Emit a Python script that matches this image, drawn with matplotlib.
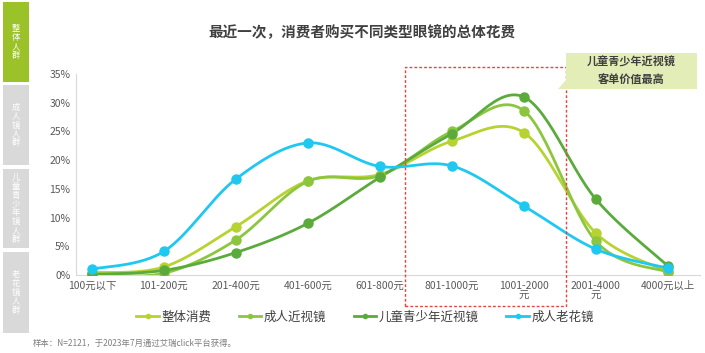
import numpy as np
import matplotlib.pyplot as plt
from matplotlib.patches import Rectangle, Polygon

plt.rcParams['font.family'] = ['Noto Sans CJK SC', 'DejaVu Sans']

# 数据
categories = ["100元以下", "101-200元", "201-400元", "401-600元", "601-800元",
              "801-1000元", "1001-2000\n元", "2001-4000\n元", "4000元以上"]
overall = [0.4, 1.4, 8.4, 16.4, 17.5, 23.3, 24.8, 7.3, 0.6]
adult_myopia = [0.2, 0.3, 6.1, 16.3, 17.3, 25.0, 28.6, 5.9, 0.5]
youth_myopia = [0.1, 0.8, 3.9, 9.0, 17.0, 24.6, 31.0, 13.2, 1.6]
presbyopia = [1.0, 4.1, 16.7, 23.0, 18.9, 19.0, 12.0, 4.5, 1.2]

series_names = ["整体消费", "成人近视镜", "儿童青少年近视镜", "成人老花镜"]
series_colors = ["#b6d332", "#8cc63f", "#5aab3c", "#1ec8f0"]
tabs = ["整体人群", "成人镜人群", "儿童青少年镜人群", "老花镜人群"]


def smooth(y, n=30):
    # Excel 风格的平滑曲线（贝塞尔，控制点取相邻点差的 1/6）
    pts = np.column_stack([np.arange(len(y)), y]).astype(float)
    out = []
    for i in range(len(pts) - 1):
        p0 = pts[max(i - 1, 0)]
        p1 = pts[i]
        p2 = pts[i + 1]
        p3 = pts[min(i + 2, len(pts) - 1)]
        c1 = p1 + (p2 - p0) / 6
        c2 = p2 - (p3 - p1) / 6
        t = np.linspace(0, 1, n)[:, None]
        seg = (1 - t) ** 3 * p1 + 3 * (1 - t) ** 2 * t * c1 + 3 * (1 - t) * t ** 2 * c2 + t ** 3 * p2
        out.append(seg if i == 0 else seg[1:])
    seg = np.vstack(out)
    return seg[:, 0], seg[:, 1]


fig = plt.figure(figsize=(7.05, 3.53), dpi=100)
W, H = 705, 353

ax = fig.add_axes([76 / W, 1 - 275 / H, (700 - 76) / W, (275 - 74) / H])
x = np.arange(len(categories))
for vals, name, color in zip([overall, adult_myopia, youth_myopia, presbyopia], series_names, series_colors):
    sx, sy = smooth(vals)
    ax.plot(sx, sy, color=color, lw=2, zorder=3)
    ax.plot(x, vals, 'o', color=color, ms=6.5, zorder=4)
    ax.plot([], [], '-o', color=color, lw=2, ms=3, label=name)

ax.set_ylim(0, 35)
ax.set_xlim((55 - 91) / 72.1 + 0.28, (700 - 91) / 72.1)
ax.set_yticks(range(0, 36, 5))
ax.set_yticklabels([f"{v}%" for v in range(0, 36, 5)])
ax.set_xticks(x)
ax.set_xticklabels(categories, linespacing=1.0)
ax.tick_params(length=0, labelsize=7.5, labelcolor="#595959", pad=4)
for s in ["top", "right"]:
    ax.spines[s].set_visible(False)
for s in ["left", "bottom"]:
    ax.spines[s].set_color("#d9d9d9")

ax.legend(loc="center", bbox_to_anchor=(365 / W, 1 - 317 / H), bbox_transform=fig.transFigure,
          ncol=4, frameon=False, fontsize=9, handlelength=1.8, columnspacing=2.2,
          handletextpad=0.2, labelcolor="#404040")

# 标题
fig.text(362 / W, 1 - 32 / H, "最近一次，消费者购买不同类型眼镜的总体花费", ha="center", va="center",
         fontsize=10.5, fontweight="bold", color="#404040")

# 红色虚线框
fig.patches.append(Rectangle((405 / W, 1 - 306 / H), (566 - 405) / W, (306 - 67) / H,
                             transform=fig.transFigure, fill=False, ec="#e8433c", lw=1, ls=(0, (2, 1.5))))

# 注释框
fig.patches.append(Rectangle((566 / W, 1 - 89 / H), (697 - 566) / W, (89 - 53) / H,
                             transform=fig.transFigure, fc="#e3edb8", ec="none"))
fig.patches.append(Polygon([(566 / W, 1 - 80 / H), (566 / W, 1 - 89 / H), (558 / W, 1 - 89 / H)],
                           transform=fig.transFigure, fc="#e3edb8", ec="none"))
fig.text(631 / W, 1 - 71 / H, "儿童青少年近视镜\n客单价值最高", ha="center", va="center",
         fontsize=8, fontweight="bold", color="#404040", linespacing=1.5)

# 左侧标签（竖排，逐字放置）
tab_boxes = [(2, 82), (85, 165), (169, 248), (252, 333)]
step = 8.8
for i, (label, (y0, y1)) in enumerate(zip(tabs, tab_boxes)):
    fc = "#9bc228" if i == 0 else "#d9d9d9"
    fig.patches.append(Rectangle((3 / W, 1 - y1 / H), (29 - 3) / W, (y1 - y0) / H,
                                 transform=fig.transFigure, fc=fc, ec="none"))
    yc = (y0 + y1) / 2
    start = yc - step * (len(label) - 1) / 2
    for k, ch in enumerate(label):
        fig.text(16 / W, 1 - (start + k * step) / H, ch, ha="center", va="center",
                 fontsize=6, color="white")

fig.text(33 / W, 1 - 343 / H, "样本：N=2121，于2023年7月通过艾瑞click平台获得。", ha="left", va="center",
         fontsize=6, color="#7f7f7f")

fig.savefig("out.png", dpi=100)
